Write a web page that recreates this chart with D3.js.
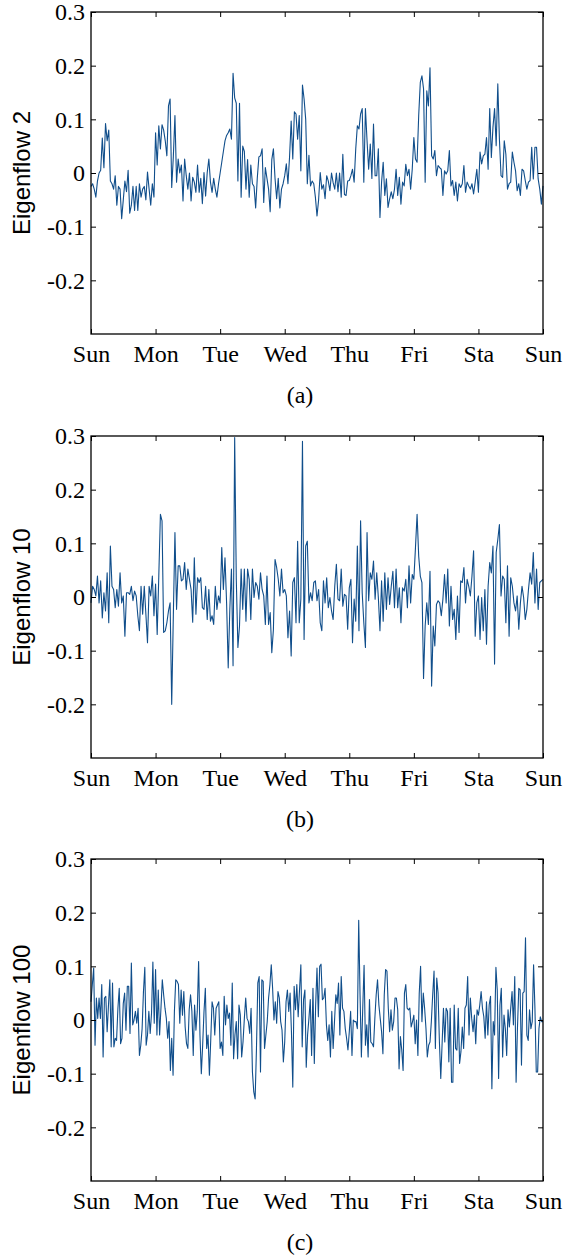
<!DOCTYPE html>
<html>
<head>
<meta charset="utf-8">
<script src="https://cdn.jsdelivr.net/npm/d3@7"></script>
<style>
  body { margin: 0; background: #fff; }
  svg { display: block; }
</style>
</head>
<body>
<svg id="chart" width="566" height="1258"></svg>
<script>
// tick labels and panel texts
const dayLabels = ["Sun", "Mon", "Tue", "Wed", "Thu", "Fri", "Sta", "Sun"];
const yTickValues = [-0.2, -0.1, 0, 0.1, 0.2, 0.3];
const panelNames = ["Eigenflow 2", "Eigenflow 10", "Eigenflow 100"];
const panelCaptions = ["(a)", "(b)", "(c)"];

// one week of values per eigenflow, evenly spaced from Sun to the next Sun
const eigenflow2 = [
  -0.025, -0.02, -0.03, -0.045, -0.015, 0, 0.005, 0.065, 0.01, 0.092, 0.06, 0.08, -0.015, -0.02, -0.03, -0.005, -0.06, -0.025, -0.03, -0.085,
  -0.05, -0.015, -0.035, 0.005, -0.075, -0.06, -0.025, -0.07, -0.025, -0.07, -0.02, -0.045, -0.03, -0.025, -0.05, 0.002, -0.03, -0.06, -0.02, -0.045,
  0.075, 0.015, 0.088, 0.045, 0.09, 0.08, 0.06, 0.032, 0.125, 0.138, -0.027, 0.03, 0.107, -0.017, 0.026, 0, 0.015, -0.052, 0.026, -0.005,
  -0.03, 0, -0.052, -0.008, -0.017, -0.036, 0.015, -0.036, -0.01, -0.057, 0.001, -0.043, 0.001, 0.026, -0.017, -0.036, -0.01, -0.03, -0.045, -0.02,
  0, 0.02, 0.04, 0.06, 0.07, 0.075, 0.082, 0.063, 0.186, 0.14, 0.13, -0.015, 0.13, -0.045, 0.05, 0.04, -0.03, 0.025, -0.045, 0.015,
  -0.02, -0.025, -0.065, -0.01, 0.03, 0.032, 0.045, -0.055, 0.01, -0.01, -0.03, -0.072, 0.025, 0.045, -0.01, -0.048, -0.01, -0.065, -0.03, -0.02,
  -0.005, 0.017, -0.02, 0.03, 0.097, 0.026, 0.114, 0.11, 0.063, 0.107, 0.004, 0.164, 0.138, 0.1, -0.02, 0.033, -0.024, -0.015, -0.02, -0.045,
  -0.08, -0.05, 0.001, -0.03, -0.022, -0.048, -0.005, -0.015, -0.033, 0, -0.018, -0.03, 0, -0.035, 0, -0.045, 0.035, -0.04, -0.042, -0.015,
  -0.014, -0.005, 0.007, -0.017, 0.045, 0.088, 0.082, 0.11, 0.12, -0.017, 0.12, 0.06, 0.007, 0.054, -0.01, 0.091, -0.005, -0.005, 0.045, -0.083,
  -0.017, 0.02, -0.042, -0.011, -0.064, -0.048, -0.035, -0.048, -0.03, 0.007, -0.042, -0.008, -0.058, -0.017, -0.024, 0.016, -0.005, 0.007, -0.03, 0.007,
  0.066, 0.026, 0.02, 0.107, 0.169, 0.181, 0.157, -0.017, 0.153, 0.125, 0.196, 0.032, 0.026, 0.042, -0.005, 0.014, 0.01, 0.007, -0.042, 0.004,
  -0.002, 0.004, 0.042, -0.024, -0.014, -0.042, -0.017, -0.052, -0.02, -0.027, -0.02, 0.014, -0.036, -0.017, -0.024, -0.03, -0.02, -0.039, -0.017, 0.007,
  -0.036, 0.039, 0.017, 0.032, 0.035, 0.066, 0.007, 0.12, 0.029, 0.085, 0.12, 0.051, 0.166, 0.063, -0.005, -0.008, 0.06, 0.035, -0.03, -0.02,
  -0.017, 0.039, 0.02, 0.004, -0.033, -0.02, -0.042, 0.007, 0.004, -0.014, -0.03, -0.017, -0.014, 0.048, -0.011, 0.048, 0.048, -0.011, -0.03, -0.058,
  -0.024
];

const eigenflow10 = [
  -0.011, 0.02, 0.014, 0.002, 0.039, -0.011, 0.03, -0.039, 0.008, -0.026, 0.045, -0.048, 0.095, 0.02, 0.014, -0.02, 0.014, -0.017, 0.045, -0.011,
  0.002, -0.073, 0.008, 0.008, 0.005, 0.02, -0.007, 0.011, 0.002, -0.035, -0.063, 0.02, -0.032, 0.02, -0.032, -0.085, 0.02, 0.002, 0.039, -0.035,
  0.024, -0.07, 0.039, 0.154, 0.142, -0.066, -0.063, -0.048, -0.026, -0.011, -0.2, -0.035, 0.12, -0.023, 0.058, 0.058, 0.03, 0.033, 0.064, 0.014,
  0.052, 0.033, 0.014, -0.047, 0.073, -0.032, 0.036, 0.027, 0.036, -0.02, -0.023, 0.02, -0.042, 0.014, -0.045, -0.035, -0.051, 0.02, -0.023, 0.002,
  -0.011, 0.092, 0.014, 0.073, -0.011, -0.132, -0.023, 0.052, -0.128, 0.297, 0.033, -0.094, -0.054, 0.052, -0.023, 0.052, -0.045, 0.052, 0.033, -0.042,
  0.052, -0.001, 0.027, 0.02, -0.004, 0.045, 0.014, 0.002, -0.051, 0.039, -0.051, -0.029, -0.104, -0.06, 0.07, 0.055, 0.033, 0.002, 0.052, 0.008,
  0.014, 0.002, -0.076, -0.026, -0.11, 0.027, 0.036, -0.048, 0.104, -0.048, -0.004, 0.29, -0.079, 0.095, 0.104, -0.011, 0.008, -0.007, 0.027, 0.03,
  -0.007, 0.014, -0.048, -0.063, 0.03, -0.011, 0.036, -0.02, -0.001, -0.026, -0.042, 0.02, 0.061, -0.004, -0.007, 0.052, -0.017, 0.005, 0.002, -0.06,
  0.017, 0.033, -0.085, -0.004, -0.045, 0.095, -0.063, 0.142, 0.008, -0.048, -0.094, 0.12, -0.007, 0.045, 0.033, 0.067, -0.004, 0.045, -0.001, -0.063,
  0.03, -0.045, 0.045, -0.023, 0.036, -0.014, 0.02, 0.048, -0.02, 0.052, -0.02, 0.017, -0.048, 0.017, 0.011, 0.033, -0.02, 0.058, -0.011, 0.042,
  0.033, 0.092, 0.154, 0.076, 0.039, 0.027, -0.152, -0.054, -0.011, -0.051, 0.048, -0.166, -0.054, -0.091, -0.014, -0.007, -0.011, -0.035, -0.004, 0.042,
  -0.011, 0.052, -0.054, 0.02, -0.042, -0.023, -0.079, 0.002, -0.066, 0.03, 0.027, 0.055, -0.011, 0.033, 0.02, 0.002, 0.039, 0.086, -0.073, -0.011,
  0.002, -0.079, -0.001, -0.063, 0.014, -0.088, 0.02, 0.064, 0.045, 0.095, -0.125, 0.083, 0.107, 0.135, 0.002, 0.039, 0.033, -0.048, 0.058, -0.073,
  0.036, 0.02, -0.011, -0.026, 0.002, -0.06, -0.011, 0.02, -0.001, -0.042, -0.023, 0.014, 0.045, 0.024, 0.083, -0.011, 0.052, -0.023, 0.027, 0.03,
  0.033
];

const eigenflow100 = [
  0.034, 0.066, 0.097, -0.047, 0.041, 0.003, 0.041, 0.003, 0.066, -0.069, 0.041, 0.044, -0.022, 0.028, 0.075, -0.05, 0.069, -0.05, -0.034, -0.038, 0.022, 0.059, -0.044, -0.034,
  0.031, 0.05, -0.019, 0.063, 0.063, -0.025, 0.106, -0.009, 0, 0.016, -0.006, 0.022, -0.066, -0.047, -0.016, 0.053, 0.098, -0.047, -0.028, 0.016, -0.025, 0.013, 0.108, -0.006,
  0.094, -0.028, 0.056, -0.028, 0.022, 0.075, 0.047, 0.022, 0.003, -0.034, -0.003, -0.094, -0.034, -0.103, 0.016, 0.075, 0.072, 0.066, -0.006, 0.056, 0.009, 0.053, -0.013, -0.044,
  -0.053, 0.019, 0.047, 0.016, -0.066, 0.028, -0.019, 0.016, 0.109, -0.028, -0.1, -0.047, 0.016, 0.059, -0.053, -0.028, -0.103, -0.038, 0.034, 0.022, -0.028, 0.022, 0.028, 0.034,
  -0.053, -0.041, -0.066, 0.044, -0.009, 0.028, 0.003, 0.013, -0.047, 0.069, -0.072, -0.028, -0.003, -0.072, 0.028, 0.009, -0.069, -0.041, 0.003, 0.041, 0.003, -0.003, -0.025, 0.022,
  -0.097, -0.134, -0.147, -0.053, 0.069, 0.081, -0.097, 0.075, 0.072, -0.053, -0.028, -0.003, 0.041, 0.066, 0.103, 0.059, 0, 0.034, -0.006, 0.053, 0.041, -0.003, -0.019, -0.078,
  -0.041, 0.034, 0.056, 0.016, 0.05, -0.022, -0.125, 0.063, 0.019, 0.066, 0.006, 0.056, 0.103, -0.05, 0.038, 0.056, -0.088, -0.028, 0.003, 0.038, -0.066, 0.059, -0.081, 0.028,
  0.097, 0.006, 0.1, 0.104, 0.038, 0.041, 0.059, -0.009, -0.038, -0.009, -0.069, 0.016, -0.053, -0.003, 0.047, 0.031, 0.069, -0.028, 0.081, 0.022, 0.016, -0.016, -0.034, -0.056,
  -0.022, 0.016, -0.066, 0, -0.003, -0.003, -0.016, 0.186, 0.047, -0.069, 0.022, 0.102, -0.047, -0.009, -0.069, 0.038, -0.041, -0.044, -0.05, 0.003, 0.047, 0.075, 0.028, 0.003,
  -0.022, -0.063, 0.047, 0.094, 0.091, 0.022, -0.022, 0.019, -0.019, -0.003, 0.041, 0.041, 0.019, -0.091, -0.031, -0.056, -0.094, 0.05, 0.066, 0.022, 0.019, 0.022, -0.013, -0.003,
  0.009, -0.044, 0, -0.066, 0.05, 0.1, -0.003, 0.05, 0.022, -0.016, -0.069, -0.047, -0.041, -0.003, 0.047, 0.091, -0.053, 0.078, 0.05, -0.041, -0.109, -0.044, 0.022, -0.041,
  0.022, 0.016, -0.078, 0.022, -0.116, -0.116, 0.028, -0.053, -0.056, 0.022, -0.081, -0.059, -0.013, -0.053, 0.022, 0.028, 0.081, -0.028, 0.041, 0.003, -0.022, 0.009, -0.044, 0.019,
  0.009, 0.028, 0.053, 0.022, 0.006, -0.034, 0.034, -0.028, 0.028, 0.044, -0.128, -0.003, -0.028, 0.098, 0.056, -0.109, 0.028, 0.059, -0.069, 0.009, -0.016, -0.066, 0.019, -0.013,
  0.022, 0.053, -0.009, 0.081, -0.116, -0.016, 0.059, 0.056, -0.084, 0.05, 0.053, 0.153, -0.028, -0.038, 0.019, -0.016, -0.003, 0.103, 0.022, -0.097, -0.097, -0.016, 0.006, -0.003,
  -0.003
];

const series = [eigenflow2, eigenflow10, eigenflow100];

const svg = d3.select("#chart");
const margin = { left: 91 };
const width = 452;
const height = 322;
const panelTops = [12, 436, 859];
const lineColor = "#104e8b";
const serif = "'Times New Roman', 'Liberation Serif', serif";
const sans = "Arial, 'Liberation Sans', sans-serif";

const xScale = d3.scaleLinear().domain([0, 7]).range([0, width]);
const yScale = d3.scaleLinear().domain([-0.3, 0.3]).range([height, 0]);
const dayTicks = d3.range(dayLabels.length);

// small helper to tidy up an axis group
function styleAxis(sel, showText) {
  sel.select(".domain").remove();
  sel.selectAll(".tick line").attr("stroke", "#000").attr("stroke-width", 1);
  sel.selectAll(".tick text")
    .attr("fill", "#000")
    .style("font-family", serif)
    .style("font-size", "24px")
    .style("display", showText ? null : "none");
}

series.forEach((values, k) => {
  const chart = svg
    .append("g")
    .attr("transform", `translate(${margin.left}, ${panelTops[k]})`);

  const step = 7 / (values.length - 1);
  const line = d3
    .line()
    .x((d, i) => xScale(i * step))
    .y((d) => yScale(d));

  // the series
  chart
    .append("path")
    .datum(values)
    .attr("d", line)
    .attr("fill", "none")
    .attr("stroke", lineColor)
    .attr("stroke-width", 1.1)
    .attr("stroke-linejoin", "round");

  // bottom axis with day names
  chart
    .append("g")
    .attr("transform", `translate(0, ${height})`)
    .call(
      d3.axisBottom(xScale)
        .tickValues(dayTicks)
        .tickFormat((i) => dayLabels[i])
        .tickSize(-5)
        .tickSizeOuter(0)
        .tickPadding(11)
    )
    .call((g) => styleAxis(g, true));

  // top axis, ticks only
  chart
    .append("g")
    .call(d3.axisTop(xScale).tickValues(dayTicks).tickSize(-5).tickSizeOuter(0))
    .call((g) => styleAxis(g, false));

  // left axis with values
  chart
    .append("g")
    .call(
      d3.axisLeft(yScale)
        .tickValues(yTickValues)
        .tickFormat((d) => String(d))
        .tickSize(-5)
        .tickSizeOuter(0)
        .tickPadding(6)
    )
    .call((g) => styleAxis(g, true));

  // right axis, ticks only
  chart
    .append("g")
    .attr("transform", `translate(${width}, 0)`)
    .call(d3.axisRight(yScale).tickValues(yTickValues).tickSize(-5).tickSizeOuter(0))
    .call((g) => styleAxis(g, false));

  // box around the plot
  chart
    .append("rect")
    .attr("x", 0)
    .attr("y", 0)
    .attr("width", width)
    .attr("height", height)
    .attr("fill", "none")
    .attr("stroke", "#000")
    .attr("stroke-width", 1.3);

  // y label
  chart
    .append("text")
    .attr("transform", `translate(${30 - margin.left}, ${height / 2}) rotate(-90)`)
    .attr("text-anchor", "middle")
    .style("font-family", sans)
    .style("font-size", "24px")
    .attr("fill", "#000")
    .text(panelNames[k]);

  // caption under the panel
  chart
    .append("text")
    .attr("x", 300 - margin.left)
    .attr("y", 391)
    .attr("text-anchor", "middle")
    .style("font-family", serif)
    .style("font-size", "24px")
    .attr("fill", "#000")
    .text(panelCaptions[k]);
});
</script>
</body>
</html>
